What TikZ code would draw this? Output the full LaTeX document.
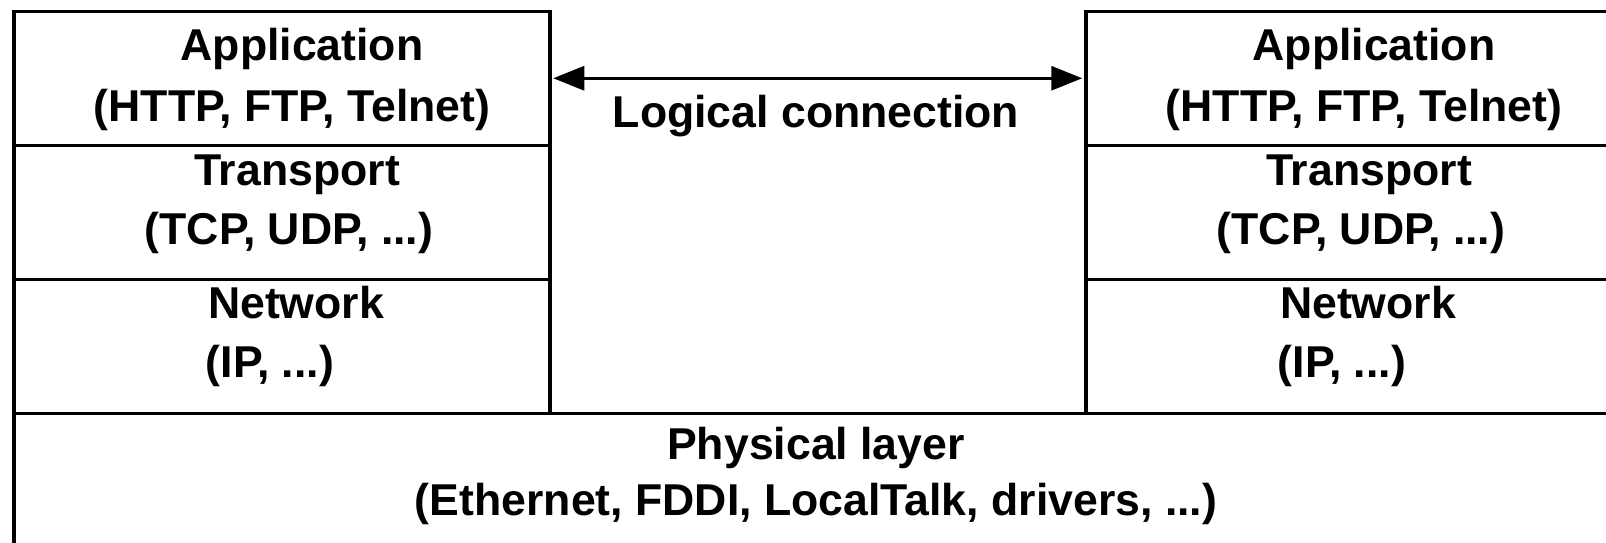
\documentclass[tikz,border=0pt]{standalone}
\usepackage{fontspec}
\setmainfont{Liberation Sans}
\usetikzlibrary{arrows.meta}
\tikzset{
  cell/.style={draw=black, line width=3.5pt, minimum width=536pt, minimum height=134pt, inner sep=0pt, anchor=north west},
  lbl/.style={anchor=base, inner sep=0pt, font=\fontsize{44.6}{54}\selectfont\bfseries},
  arr/.style={line width=3.2pt, {Triangle[length=31pt,width=24pt]}-{Triangle[length=31pt,width=24pt]}, shorten <=1.75pt, shorten >=1.75pt}
}
\begin{document}
\begin{tikzpicture}[x=1pt,y=-1pt]
\useasboundingbox (0,0) rectangle (1606,542);
% physical layer
\node[cell, minimum width=1608pt, minimum height=150pt] (phys) at (12,411.5) {};
% left stack
\node[cell] (lapp) at (12,9.5) {};
\node[cell] (ltrans) at (12,143.5) {};
\node[cell] (lnet) at (12,277.5) {};
% right stack
\node[cell] (rapp) at (1084,9.5) {};
\node[cell] (rtrans) at (1084,143.5) {};
\node[cell] (rnet) at (1084,277.5) {};
% labels left
\node[lbl] (lappa) at (302,60) {Application};
\node[lbl] (lappb) at (292,121) {(HTTP, FTP, Telnet)};
\node[lbl] (ltra) at (297,185) {Transport};
\node[lbl] (ltrb) at (289,244) {(TCP, UDP, ...)};
\node[lbl] (lneta) at (296,318) {Network};
\node[lbl] (lnetb) at (270,377) {(IP, ...)};
% labels right
\node[lbl] (rappa) at (1374,60) {Application};
\node[lbl] (rappb) at (1364,121) {(HTTP, FTP, Telnet)};
\node[lbl] (rtra) at (1369,185) {Transport};
\node[lbl] (rtrb) at (1361,244) {(TCP, UDP, ...)};
\node[lbl] (rneta) at (1368,318) {Network};
\node[lbl] (rnetb) at (1342,377) {(IP, ...)};
% physical labels
\node[lbl] (physa) at (816,459) {Physical layer};
\node[lbl] (physb) at (816,515) {(Ethernet, FDDI, LocalTalk, drivers, ...)};
% logical connection
\node[lbl] (logic) at (816,127) {Logical connection};
\draw[arr] (lapp.east) -- (rapp.west);
\end{tikzpicture}
\end{document}
